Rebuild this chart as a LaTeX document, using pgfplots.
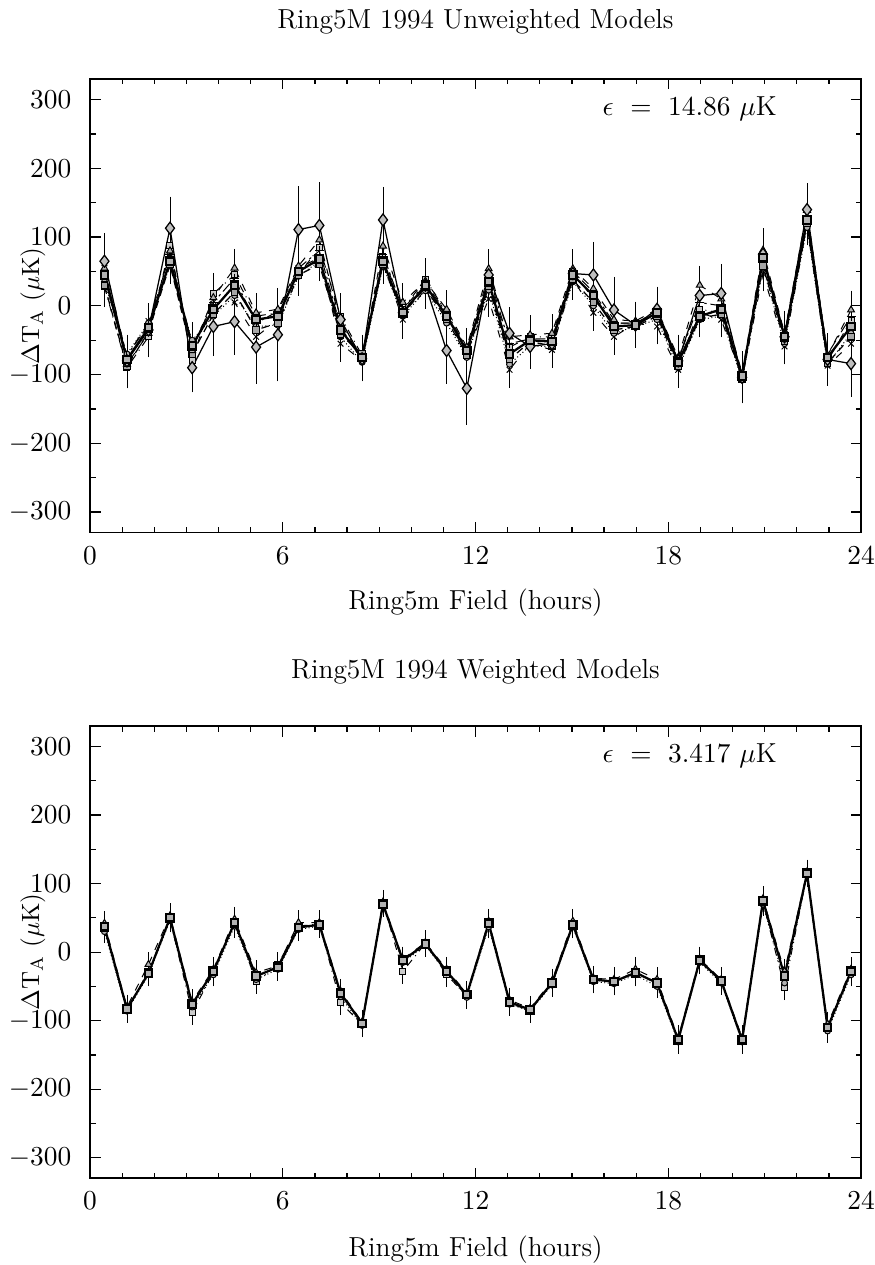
\documentclass[border=0pt]{standalone}
\usepackage{pgfplots}
\pgfplotsset{compat=1.18}
\usepackage{pgfplotstable}

\pgfplotstableread{
x      a     b     c     d     e     f    ef    g     h
0.45   45    55    35    28    62    65   33    50    30
1.15  -78   -85   -70   -90   -75   -80   30   -72   -88
1.82  -32   -40   -25   -45   -22   -35   28   -28   -38
2.49   65    80    58    88    72   113   38    75    60
3.18  -58   -65   -50   -80   -55   -90   28   -62   -70
3.84   -5    12   -15    18     0   -30   35     5   -12
4.50   30    55    15    45     5   -23   40    40    20
5.17  -20   -10   -30   -15   -45   -60   45   -25   -35
5.85  -15    -5   -28   -10   -20   -42   60    -8   -25
6.49   50    58    43    45    55   111   55    55    45
7.14   68    96    65    85    70   117   55    80    60
7.80  -35   -25   -45   -15   -55   -20   30   -30   -42
8.47  -75   -78   -82   -72   -80   -77   25   -80   -70
9.12   65    87    58    72    62   125   40    75    60
9.74  -10     5   -15    -5   -20   -10   30    -5   -12
10.44  30    36    22    39    25    30   25    33    27
11.10 -15    -5   -25   -10   -20   -65   40   -10   -20
11.73 -65   -60   -75   -70   -68  -120   45   -62   -72
12.41  35    54    23    40    10    45   25    45    28
13.06 -70   -45   -85   -60   -93   -40   30   -55   -78
13.70 -50   -42   -58   -45   -55   -59   25   -48   -52
14.38 -52   -40   -60   -45   -64   -55   25   -48   -58
15.03  45    54    35    50    40    47   25    50    38
15.67  15    25     0    10   -10    45   40    20     5
16.31 -30   -20   -40   -25   -45    -6   40   -25   -35
16.98 -28   -22   -30   -25   -25   -28   25   -25   -30
17.65 -10    -5   -20    -8   -30    -5   25   -12   -15
18.31 -82   -75   -90   -85   -93   -80   30   -78   -88
18.98 -15    30   -20    -5   -10    15   35     5   -18
19.65  -5    10   -15   -10   -20    18   35     0   -12
20.30 -102  -98  -108  -100  -105  -104   30  -100  -106
20.95  70    81    55    61    47    75   30    65    58
21.62 -45   -40   -55   -50   -59   -45   30   -42   -52
22.32 125   139   114   124   118   140   30   130   120
22.96 -75   -72   -85   -80   -87   -78   30   -70   -83
23.69 -30    -6   -40   -21   -55   -84   40   -15   -45
}\topdata

\pgfplotstableread{
x      a     b     c     d
0.45   37    42    30    35
1.15  -83   -80   -86   -84
1.82  -31   -18   -33   -28
2.49   50    53    46    48
3.18  -76   -72   -80   -88
3.84  -28   -25   -33   -30
4.50   43    48    38    45
5.17  -35   -30   -40   -43
5.85  -22   -20   -25   -18
6.49   36    43    33    38
7.14   40    43    38    41
7.80  -60   -57   -65   -74
8.47 -104  -102  -107  -105
9.12   70    73    68    72
9.74  -12   -10   -15   -28
10.44  12    14    10    13
11.10 -28   -25   -30   -33
11.73 -62   -60   -66   -64
12.41  42    45    37    40
13.06 -73   -70   -76   -75
13.70 -84   -82   -86   -85
14.38 -45   -42   -48   -46
15.03  40    45    37    42
15.67 -40   -38   -43   -41
16.31 -43   -40   -46   -44
16.98 -30   -25   -33   -28
17.65 -45   -40   -50   -47
18.31 -128 -125  -131  -129
18.98 -12   -10   -15   -13
19.65 -42   -40   -45   -43
20.30 -128 -125  -131  -129
20.95  75    78    70    73
21.62 -35   -28   -45   -52
22.32 115   117   112   114
22.96 -110 -105  -115  -112
23.69 -28   -25   -33   -30
}\botdata

\pgfplotsset{
  ringax/.style={
    scale only axis,
    width=308.4pt,
    anchor=south west,
    xmin=0, xmax=24, ymin=-330, ymax=330,
    xtick={0,6,12,18,24},
    ytick={-300,-200,-100,0,100,200,300},
    minor x tick num=5,
    minor y tick num=1,
    major tick length=4.2pt,
    minor tick length=2.2pt,
    tick align=inside,
    every tick/.style={black, line width=0.5pt},
    axis line style={line width=0.6pt},
    tick label style={font=\fontsize{11}{13}\selectfont},
    xticklabel style={anchor=center, inner sep=0pt, yshift=-9pt},
    yticklabel style={anchor=east, inner sep=0pt, xshift=-7.3pt},
    ylabel={$\Delta\mathrm{T_A}$ ($\mu$K)},
    ylabel style={at={(axis description cs:-0.074,0.5)}, anchor=center, font=\fontsize{10}{12}\selectfont},
    xlabel={Ring5m Field (hours)},
    every axis title shift=0pt,
    title style={anchor=center, font=\fontsize{11}{13}\selectfont},
    xlabel style={anchor=center, font=\fontsize{11}{13}\selectfont},
    error bars/y dir=both,
    error bars/error bar style={solid, line width=0.35pt},
    error bars/error mark options={mark size=2.2pt, line width=0.35pt},
  },
  sA/.style={black, line width=0.9pt, solid, mark=square*, mark size=1.5pt, mark options={solid, fill=gray!60}},
  sB/.style={black, line width=0.4pt, dashed, mark=triangle*, mark size=1.6pt, mark options={solid, fill=gray!60}},
  sC/.style={black, line width=0.4pt, densely dotted, mark=*, mark size=1.2pt, mark options={solid, fill=gray!60}},
  sD/.style={black, line width=0.4pt, dashdotted, mark=square*, mark size=1.2pt, mark options={solid, fill=gray!40}},
  sE/.style={black, line width=0.4pt, loosely dashed, mark=x, mark size=1.6pt, mark options={solid}},
  sF/.style={black, line width=0.5pt, solid, mark=diamond*, mark size=2.4pt, mark options={solid, fill=gray!50}},
  sG/.style={black, line width=0.4pt, dash pattern=on 4pt off 1.5pt on 1pt off 1.5pt, mark=+, mark size=1.8pt, mark options={solid}},
  sH/.style={black, line width=0.5pt, densely dashed, mark=square*, mark size=1.3pt, mark options={solid, fill=gray!70}},
}

\begin{document}
\begin{tikzpicture}
\useasboundingbox (0,0) rectangle (350pt,506pt);

\begin{axis}[ringax, at={(36pt,292.9pt)}, height=181.5pt,
  title={Ring5M 1994 Unweighted Models},
  title style={at={(axis description cs:0.5,1.1263)}},
  xlabel style={at={(axis description cs:0.5,-0.155)}}]
\addplot+[sE, error bars/y fixed=18] table[x=x, y=e] {\topdata};
\addplot+[sD, error bars/y fixed=22] table[x=x, y=d] {\topdata};
\addplot+[sC, error bars/y fixed=18] table[x=x, y=c] {\topdata};
\addplot+[sG, error bars/y fixed=20] table[x=x, y=g] {\topdata};
\addplot+[sH, error bars/y fixed=16] table[x=x, y=h] {\topdata};
\addplot+[sB, error bars/y fixed=20] table[x=x, y=b] {\topdata};
\addplot+[sF, error bars/y explicit] table[x=x, y=f, y error=ef] {\topdata};
\addplot+[sA, error bars/y fixed=15] table[x=x, y=a] {\topdata};
\node[font=\fontsize{11}{13}\selectfont] at (axis cs:18.67,287) {$\epsilon\ =\ 14.86\ \mu$K};
\end{axis}

\begin{axis}[ringax, at={(36pt,34.7pt)}, height=180.9pt,
  title={Ring5M 1994 Weighted Models},
  title style={at={(axis description cs:0.5,1.120)}},
  xlabel style={at={(axis description cs:0.5,-0.1585)}}]
\addplot+[sD, error bars/y fixed=10] table[x=x, y=d] {\botdata};
\addplot+[sC, error bars/y fixed=9] table[x=x, y=c] {\botdata};
\addplot+[sB, error bars/y fixed=10] table[x=x, y=b] {\botdata};
\addplot+[sA, error bars/y fixed=8] table[x=x, y=a] {\botdata};
\node[font=\fontsize{11}{13}\selectfont] at (axis cs:18.67,286) {$\epsilon\ =\ 3.417\ \mu$K};
\end{axis}
\end{tikzpicture}
\end{document}
